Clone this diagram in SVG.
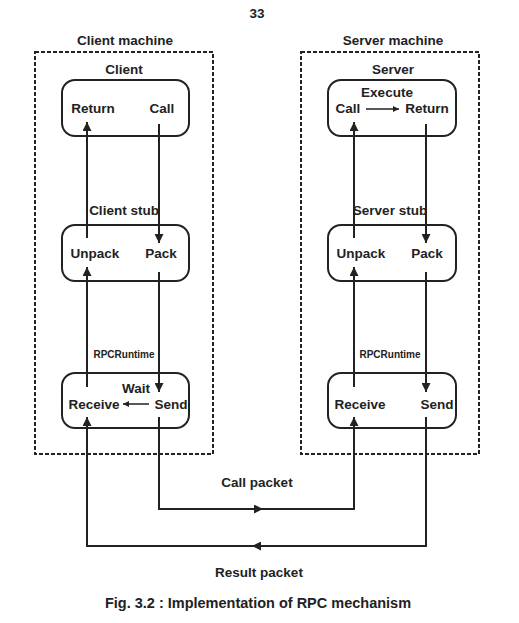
<svg xmlns="http://www.w3.org/2000/svg" width="519" height="623" viewBox="0 0 519 623">
  <defs>
    <style>
      text { font-family: "Liberation Sans", Arial, sans-serif; font-weight: bold; fill: #222; text-anchor: middle; }
      .lbl { font-size: 13.5px; }
      .small { font-size: 10px; }
      .cap { font-size: 14.5px; }
      .box { fill: none; stroke: #222; stroke-width: 2; }
      .machine { fill: none; stroke: #222; stroke-width: 2; stroke-dasharray: 4 2; }
      .flow { fill: none; stroke: #222; stroke-width: 2; marker-end: url(#arrow); }
      .thin { fill: none; stroke: #222; stroke-width: 1.5; marker-end: url(#arrowSmall); }
    </style>
    <marker id="arrow" viewBox="0 0 10 10" refX="10" refY="5" markerUnits="userSpaceOnUse" markerWidth="10" markerHeight="9" orient="auto">
      <path d="M0,0 L10,5 L0,10 Z" fill="#222"/>
    </marker>
    <marker id="arrowSmall" viewBox="0 0 10 10" refX="10" refY="5" markerUnits="userSpaceOnUse" markerWidth="7" markerHeight="6" orient="auto">
      <path d="M0,0 L10,5 L0,10 Z" fill="#222"/>
    </marker>
  </defs>

  <rect width="519" height="623" fill="#fff"/>

  <text class="lbl" x="257" y="18">33</text>

  <!-- Client machine -->
  <g id="client-machine">
    <text class="lbl" x="125" y="45">Client machine</text>
    <rect class="machine" x="35" y="52" width="178" height="402"/>
  </g>
  <g id="client">
    <text class="lbl" x="124" y="74">Client</text>
    <rect class="box" x="62" y="80" width="127" height="56" rx="13"/>
    <text class="lbl" x="93" y="113">Return</text>
    <text class="lbl" x="162" y="113">Call</text>
  </g>
  <g id="client-stub">
    <text class="lbl" x="124" y="215">Client stub</text>
    <rect class="box" x="62" y="225" width="127" height="56" rx="13"/>
    <text class="lbl" x="95" y="258">Unpack</text>
    <text class="lbl" x="161" y="258">Pack</text>
  </g>
  <g id="client-runtime">
    <text class="small" x="124" y="358">RPCRuntime</text>
    <rect class="box" x="62" y="373" width="127" height="55" rx="13"/>
    <text class="lbl" x="136" y="393">Wait</text>
    <text class="lbl" x="94" y="409">Receive</text>
    <text class="lbl" x="171" y="409">Send</text>
  </g>

  <!-- Server machine -->
  <g id="server-machine">
    <text class="lbl" x="393" y="45">Server machine</text>
    <rect class="machine" x="301" y="52" width="178" height="402"/>
  </g>
  <g id="server">
    <text class="lbl" x="393" y="74">Server</text>
    <rect class="box" x="328" y="80" width="128" height="56" rx="13"/>
    <text class="lbl" x="387" y="97">Execute</text>
    <text class="lbl" x="348" y="113">Call</text>
    <text class="lbl" x="427" y="113">Return</text>
  </g>
  <g id="server-stub">
    <text class="lbl" x="390" y="215">Server stub</text>
    <rect class="box" x="328" y="225" width="128" height="56" rx="13"/>
    <text class="lbl" x="361" y="258">Unpack</text>
    <text class="lbl" x="427" y="258">Pack</text>
  </g>
  <g id="server-runtime">
    <text class="small" x="390" y="358">RPCRuntime</text>
    <rect class="box" x="328" y="373" width="128" height="55" rx="13"/>
    <text class="lbl" x="360" y="409">Receive</text>
    <text class="lbl" x="437" y="409">Send</text>
  </g>

  <!-- Connectors -->
  <g id="connectors">
    <!-- client side -->
    <path class="flow" d="M159,124 V243"/>
    <path class="flow" d="M159,272 V392"/>
    <path class="flow" d="M87,238 V122"/>
    <path class="flow" d="M87,387 V267"/>
    <path class="thin" d="M149,404 H123"/>
    <!-- server side -->
    <path class="thin" d="M366,109 H399"/>
    <path class="flow" d="M426,124 V243"/>
    <path class="flow" d="M426,272 V392"/>
    <path class="flow" d="M354,238 V122"/>
    <path class="flow" d="M354,387 V267"/>
    <!-- call packet -->
    <path class="flow" d="M159,417 V509 H263"/>
    <path class="flow" d="M262,509 H354 V417"/>
    <!-- result packet -->
    <path class="flow" d="M426,417 V546 H252"/>
    <path class="flow" d="M253,546 H87 V417"/>
  </g>

  <text class="lbl" x="257" y="487">Call packet</text>
  <text class="lbl" x="259" y="577">Result packet</text>
  <text class="cap" x="258" y="608">Fig. 3.2 : Implementation of RPC mechanism</text>
</svg>
